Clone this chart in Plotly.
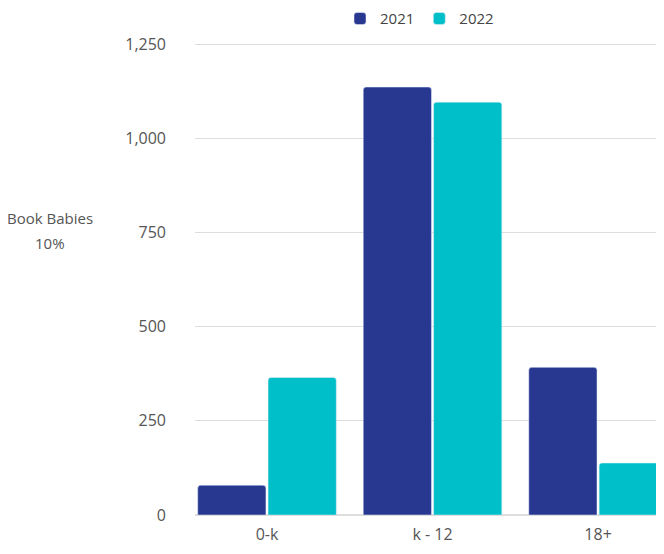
import plotly.graph_objects as go

categories = ["0-k", "k - 12", "18+"]
series_2021 = [79, 1136, 392]
series_2022 = [365, 1096, 138]
y_ticks = [0, 250, 500, 750, 1000, 1250]
y_tick_labels = ["0", "250", "500", "750", "1,000", "1,250"]

fig = go.Figure()
fig.add_bar(x=categories, y=series_2021, name="2021", marker_color="#283891")
fig.add_bar(x=categories, y=series_2022, name="2022", marker_color="#00BFC8")

fig.update_layout(
    width=648, height=538,
    margin=dict(l=187, r=0, t=35, b=31, autoexpand=False),
    plot_bgcolor="white", paper_bgcolor="white",
    font=dict(family="Open Sans", size=16, color="#555555"),
    barmode="group", bargap=0.15, bargroupgap=0.03, barcornerradius=3,
    legend=dict(orientation="h", x=0.487, xanchor="center", yref="container",
                y=0.980, yanchor="middle", font=dict(size=15, color="#444444"),
                itemwidth=30, traceorder="normal"),
    showlegend=True,
)
fig.update_xaxes(range=[-0.435, 2.35], showgrid=False, showline=False, ticks="",
                 ticklabelstandoff=8, tickfont=dict(size=16, color="#555555"))
fig.update_yaxes(range=[0, 1253], tickvals=y_ticks, ticktext=y_tick_labels,
                 showgrid=True, gridcolor="#dddddd", gridwidth=1, zeroline=True,
                 zerolinecolor="#dddddd", ticks="", ticklabelstandoff=28,
                 tickfont=dict(size=16, color="#555555"))
fig.add_annotation(text="Book Babies", xref="paper", yref="paper",
                   x=-0.315, y=0.629, showarrow=False, xanchor="center", yanchor="middle",
                   font=dict(size=15, color="#555555"))
fig.add_annotation(text="10%", xref="paper", yref="paper",
                   x=-0.315, y=0.576, showarrow=False, xanchor="center", yanchor="middle",
                   font=dict(size=15, color="#555555"))
fig.write_html("out.html")
